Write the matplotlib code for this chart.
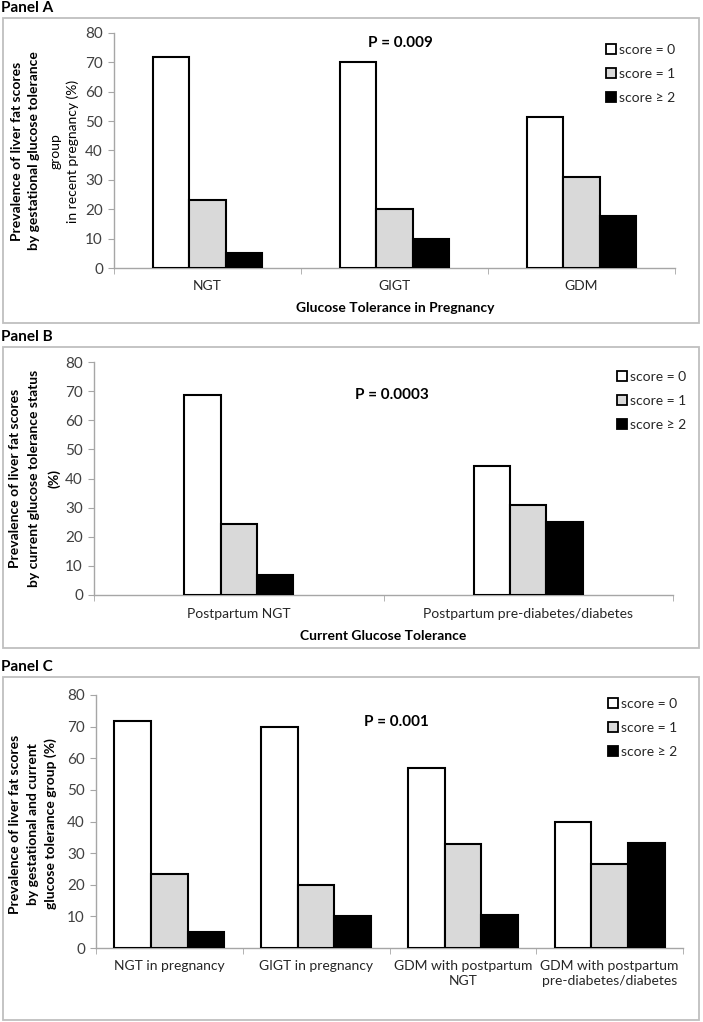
import matplotlib
matplotlib.use("Agg")
import matplotlib.pyplot as plt
from matplotlib.patches import Rectangle, Patch

plt.rcParams["font.family"] = ["Lato", "DejaVu Sans"]

W, H = 703, 1022

legend_labels = ["score = 0", "score = 1", "score \u2265 2"]
bar_colors = ["white", "#d9d9d9", "black"]

# Panel A - glucose tolerance in pregnancy
cats_a = ["NGT", "GIGT", "GDM"]
a_score0 = [71.7, 70.0, 51.5]
a_score1 = [23.3, 20.0, 30.9]
a_score2 = [5.0, 10.0, 17.6]

# Panel B - current glucose tolerance
cats_b = ["Postpartum NGT", "Postpartum pre-diabetes/diabetes"]
b_score0 = [68.8, 44.2]
b_score1 = [24.4, 30.8]
b_score2 = [6.9, 25.0]

# Panel C - gestational and current group
cats_c = ["NGT in pregnancy", "GIGT in pregnancy",
          "GDM with postpartum\nNGT", "GDM with postpartum\npre-diabetes/diabetes"]
c_score0 = [71.8, 70.0, 56.8, 40.0]
c_score1 = [23.3, 20.0, 32.8, 26.7]
c_score2 = [5.1, 10.1, 10.4, 33.3]

yticks = [0, 10, 20, 30, 40, 50, 60, 70, 80]


def fx(px):
    return px / W


def fy(py):
    return 1 - py / H


def add_axes(fig, left, right, top, bottom):
    return fig.add_axes([fx(left), fy(bottom), (right - left) / W, (bottom - top) / H])


def draw_panel(fig, ax, cats, series, bar_w):
    n = len(cats)
    xs = list(range(n))
    for k, vals in enumerate(series):
        offs = [x + (k - 1) * bar_w for x in xs]
        ax.bar(offs, vals, width=bar_w, color=bar_colors[k], edgecolor="black",
               linewidth=1.5, zorder=3)
    ax.set_xlim(-0.5, n - 0.5)
    ax.set_ylim(0, 80)
    ax.set_yticks(yticks)
    ax.set_xticks(xs)
    ax.set_xticklabels(cats, fontsize=10, color="#262626", linespacing=1.25)
    ax.set_xticks([x - 0.5 for x in range(n + 1)], minor=True)
    ax.tick_params(axis="x", which="major", length=0, pad=9)
    ax.tick_params(axis="x", which="minor", length=4, color="#a6a6a6", direction="out")
    ax.tick_params(axis="y", length=4, color="#a6a6a6", labelsize=11,
                   labelcolor="#404040", pad=4)
    for s in ["top", "right"]:
        ax.spines[s].set_visible(False)
    for s in ["left", "bottom"]:
        ax.spines[s].set_color("#a6a6a6")
        ax.spines[s].set_linewidth(1.0)
    ax.patch.set_alpha(0)


def add_legend(fig, ax, x_px, y_px):
    handles = [Patch(facecolor=c, edgecolor="black", linewidth=1.3) for c in bar_colors]
    ax.legend(handles, legend_labels, loc="upper left",
              bbox_to_anchor=(fx(x_px), fy(y_px)), bbox_transform=fig.transFigure,
              frameon=False, fontsize=10, handlelength=0.7, handleheight=0.7,
              handletextpad=0.25, labelspacing=0.85, borderpad=0, borderaxespad=0,
              labelcolor="#262626")


def add_box(fig, left, right, top, bottom):
    fig.patches.append(Rectangle((fx(left), fy(bottom)), (right - left) / W,
                                 (bottom - top) / H, transform=fig.transFigure,
                                 fill=False, edgecolor="#bfbfbf", linewidth=1.3))


def add_ylabel(fig, lines, y_center):
    for x_px, txt, weight in lines:
        fig.text(fx(x_px), fy(y_center), txt, rotation=90, ha="center", va="center",
                 fontsize=10, fontweight=weight, color="black")


fig = plt.figure(figsize=(W / 100, H / 100), dpi=100)

# ---- Panel A ----
fig.text(fx(1), fy(8), "Panel A", fontsize=11, fontweight="bold", va="center")
add_box(fig, 3, 699, 18, 323)
ax_a = add_axes(fig, 114, 675, 33, 268)
draw_panel(fig, ax_a, cats_a, [a_score0, a_score1, a_score2], 0.193)
add_legend(fig, ax_a, 606, 44)
fig.text(fx(400), fy(43), "P = 0.009", fontsize=11, fontweight="bold",
         ha="center", va="center")
fig.text(fx(395), fy(308), "Glucose Tolerance in Pregnancy", fontsize=10,
         fontweight="bold", ha="center", va="center")
add_ylabel(fig, [(17, "Prevalence of liver fat scores", "bold"),
                 (34, "by gestational glucose tolerance", "bold"),
                 (56, "group", "normal"),
                 (73, "in recent pregnancy (%)", "normal")], 151)

# ---- Panel B ----
fig.text(fx(1), fy(337), "Panel B", fontsize=11, fontweight="bold", va="center")
add_box(fig, 3, 699, 347, 648)
ax_b = add_axes(fig, 94, 673, 362, 595)
draw_panel(fig, ax_b, cats_b, [b_score0, b_score1, b_score2], 0.126)
add_legend(fig, ax_b, 617, 371)
fig.text(fx(392), fy(395), "P = 0.0003", fontsize=11, fontweight="bold",
         ha="center", va="center")
fig.text(fx(383), fy(636), "Current Glucose Tolerance", fontsize=10,
         fontweight="bold", ha="center", va="center")
add_ylabel(fig, [(15, "Prevalence of liver fat scores", "bold"),
                 (34, "by current glucose tolerance status", "bold"),
                 (54, "(%)", "bold")], 478)

# ---- Panel C ----
fig.text(fx(1), fy(667), "Panel C", fontsize=11, fontweight="bold", va="center")
add_box(fig, 3, 699, 677, 1020)
ax_c = add_axes(fig, 96, 683, 695, 948)
draw_panel(fig, ax_c, cats_c, [c_score0, c_score1, c_score2], 0.25)
add_legend(fig, ax_c, 608, 698)
fig.text(fx(396), fy(722), "P = 0.001", fontsize=11, fontweight="bold",
         ha="center", va="center")
add_ylabel(fig, [(15, "Prevalence of liver fat scores", "bold"),
                 (33, "by gestational and current", "bold"),
                 (51, "glucose tolerance group (%)", "bold")], 824)

fig.savefig("out.png", dpi=100)
